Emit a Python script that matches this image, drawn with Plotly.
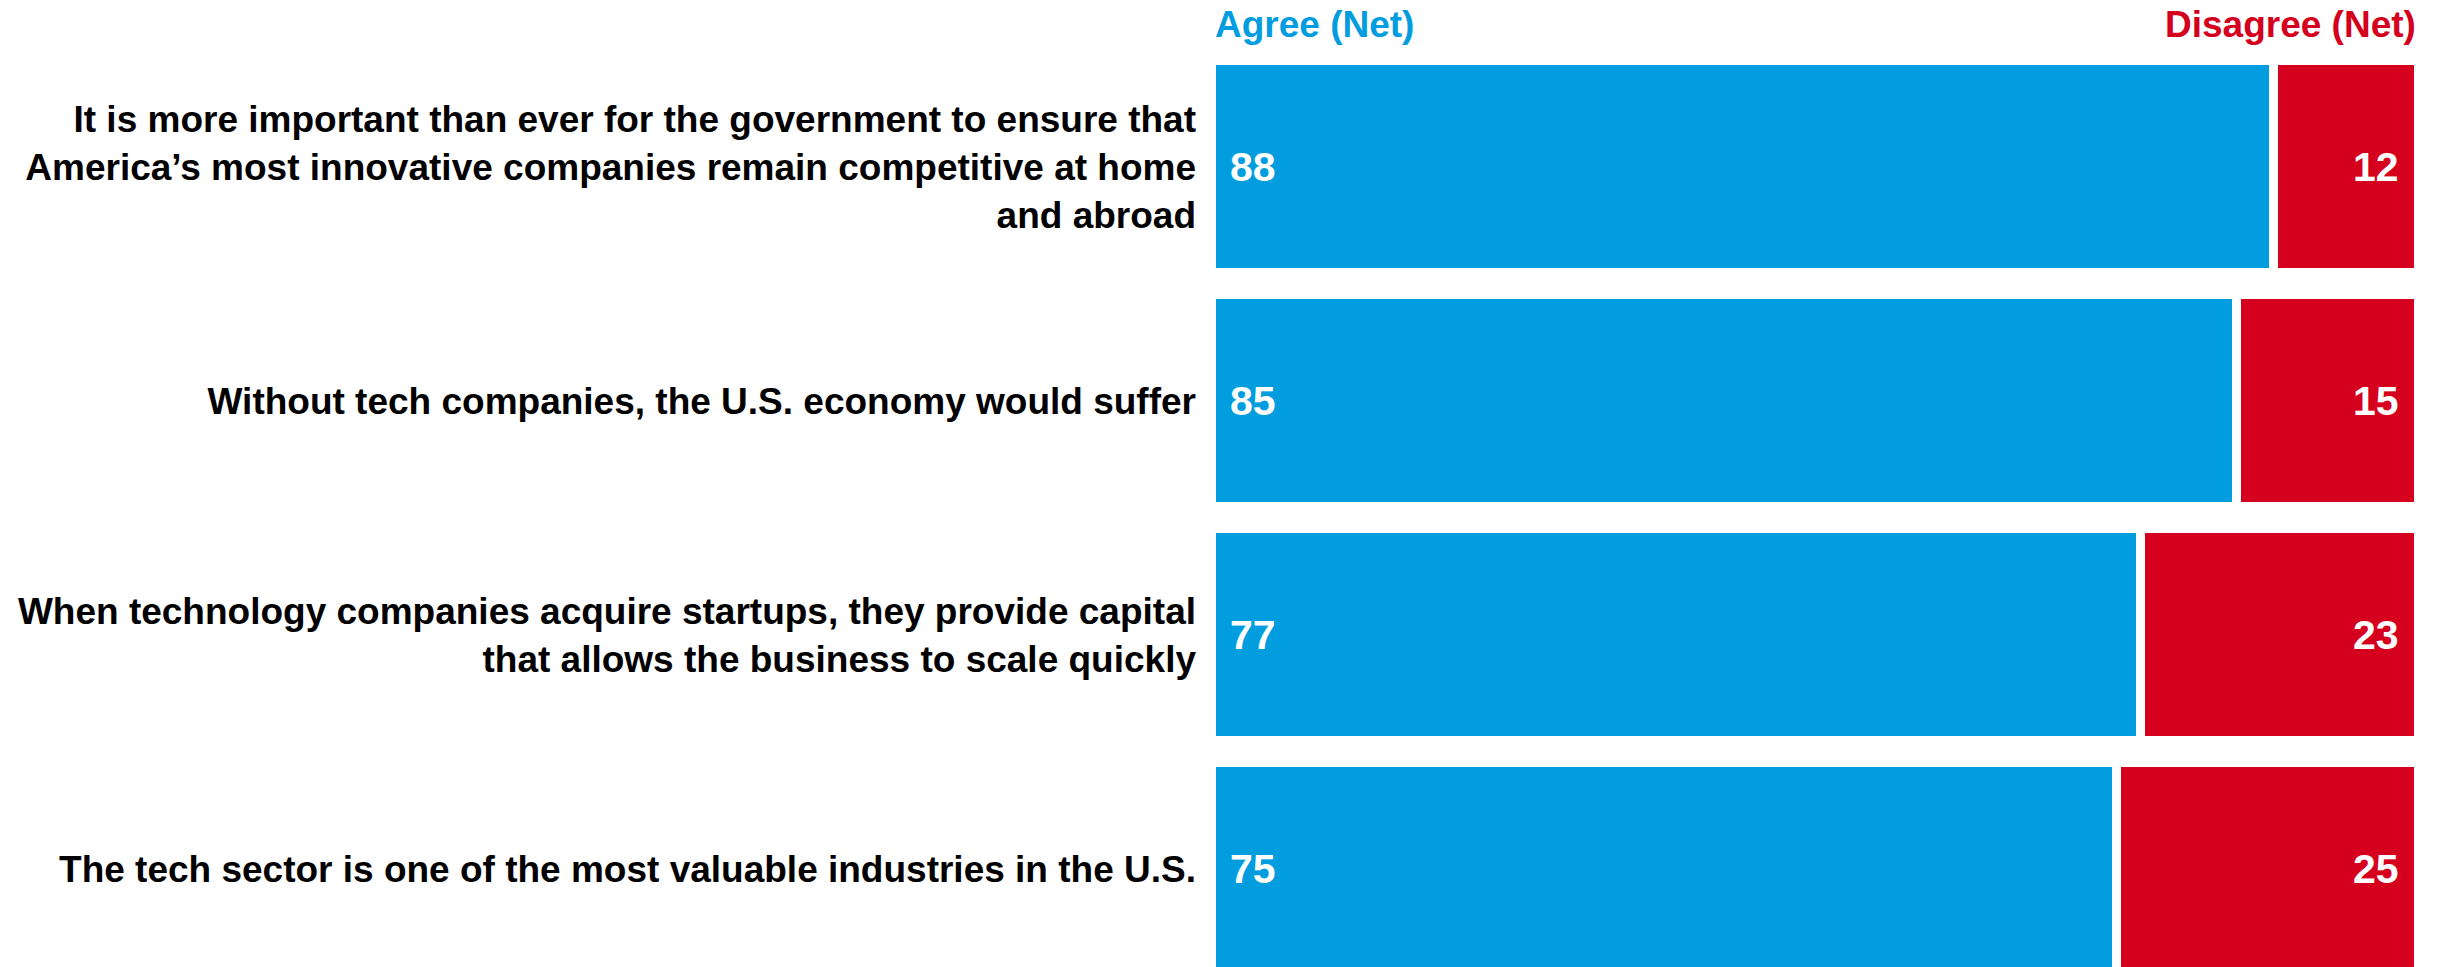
import plotly.graph_objects as go

# Survey statements (multi-line where the label wraps)
statements = [
    "It is more important than ever for the government to ensure that<br>"
    "America’s most innovative companies remain competitive at home<br>and abroad",
    "Without tech companies, the U.S. economy would suffer",
    "When technology companies acquire startups, they provide capital<br>"
    "that allows the business to scale quickly",
    "The tech sector is one of the most valuable industries in the U.S.",
]
agree_net = [88, 85, 77, 75]
disagree_net = [12, 15, 23, 25]
series_names = ["Agree (Net)", "Disagree (Net)"]

BLUE = "#029DDE"
RED = "#D5001D"
FONT = "Liberation Sans, Arial, Helvetica, sans-serif"

fig = go.Figure()
for name, vals, color in [(series_names[0], agree_net, BLUE),
                          (series_names[1], disagree_net, RED)]:
    fig.add_trace(go.Bar(
        y=statements, x=vals, orientation="h", name=name,
        marker=dict(color=color, line=dict(color="white", width=9)),
        hoverinfo="skip",
    ))

annotations = []
# Column headers above the bars
annotations.append(dict(
    text=series_names[0], xref="x", x=0, xanchor="left", xshift=2,
    yref="paper", y=1.0273, yanchor="middle", showarrow=False,
    font=dict(family=FONT, size=37, color=BLUE, weight="bold")))
annotations.append(dict(
    text=series_names[1], xref="x", x=100, xanchor="right", xshift=0,
    yref="paper", y=1.0273, yanchor="middle", showarrow=False,
    font=dict(family=FONT, size=37, color=RED, weight="bold")))

# Value labels inside the bars
for cat, a, d in zip(statements, agree_net, disagree_net):
    annotations.append(dict(
        text=str(a), xref="x", x=0, xanchor="left", xshift=17,
        yref="y", y=cat, yanchor="middle", showarrow=False,
        font=dict(family=FONT, size=41, color="white", weight="bold")))
    annotations.append(dict(
        text=str(d), xref="x", x=a + d, xanchor="right", xshift=-17,
        yref="y", y=cat, yanchor="middle", showarrow=False,
        font=dict(family=FONT, size=41, color="white", weight="bold")))

fig.update_layout(
    width=2440, height=967,
    margin=dict(l=1211, r=22, t=50, b=0, autoexpand=False),
    barmode="stack", bargap=0.094,
    paper_bgcolor="white", plot_bgcolor="white",
    showlegend=False,
    xaxis=dict(range=[0, 100], visible=False, fixedrange=True),
    yaxis=dict(
        type="category", range=[3.42, -0.5],
        showgrid=False, zeroline=False, showline=False, ticks="",
        ticklabelstandoff=14,
        tickfont=dict(family=FONT, size=37, color="black", weight="bold"),
        fixedrange=True,
    ),
    annotations=annotations,
)

fig.write_html("out.html", config={"displayModeBar": False})
